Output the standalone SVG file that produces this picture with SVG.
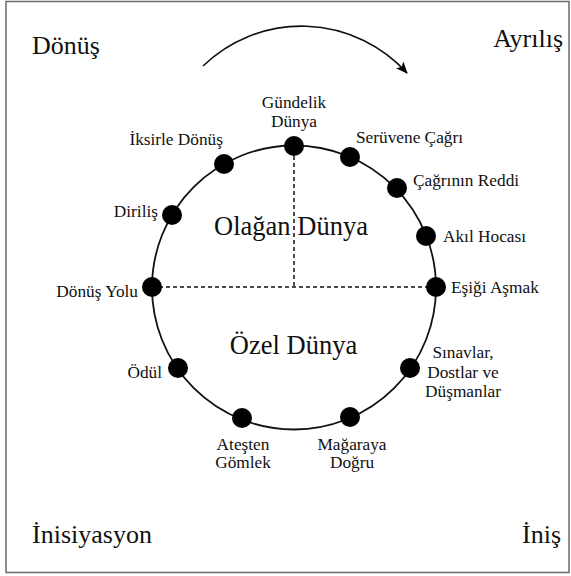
<svg xmlns="http://www.w3.org/2000/svg" width="571" height="576" viewBox="0 0 571 576">
<style>
text{fill:#111}
.big{font:26px 'Liberation Serif','Times New Roman',serif}
.mid{font:26.5px 'Liberation Serif','Times New Roman',serif}
.lbl{font:17.3px 'Liberation Serif','Times New Roman',serif}
.dot{fill:#000}
.dash{stroke:#111;stroke-width:1.5;stroke-dasharray:4 3;fill:none}
</style>
<defs>
<marker id="ah" viewBox="0 0 12 10" refX="11" refY="5" markerWidth="12" markerHeight="10" markerUnits="userSpaceOnUse" orient="auto">
<path d="M0,0 L12,5 L0,10 L3,5 Z" fill="#000"/>
</marker>
</defs>
<rect x="6" y="1.5" width="563" height="571" fill="#fff" stroke="#6a6a6a" stroke-width="1.5"/>
<g id="corners">
<text class="big" x="32" y="54">Dönüş</text>
<text class="big" x="563" y="47" text-anchor="end">Ayrılış</text>
<text class="big" x="32" y="543">İnisiyasyon</text>
<text class="big" x="561" y="543" text-anchor="end">İniş</text>
</g>
<g id="connectors">
<circle cx="294" cy="287.5" r="142" fill="none" stroke="#111" stroke-width="1.8"/>
<path class="dash" d="M294,156 V287"/>
<path class="dash" d="M152,287 H436"/>
<path d="M203,66 A142,142 0 0,1 407,73" fill="none" stroke="#111" stroke-width="1.6" marker-end="url(#ah)"/>
</g>
<g id="regions">
<text class="mid" x="291" y="235" text-anchor="middle">Olağan Dünya</text>
<text class="mid" x="293.5" y="354" text-anchor="middle">Özel Dünya</text>
</g>
<g id="n-gundelik"><circle class="dot" cx="294" cy="146" r="10"/><text class="lbl" x="294" y="108" text-anchor="middle">Gündelik</text><text class="lbl" x="294" y="127" text-anchor="middle">Dünya</text></g>
<g id="n-seruvene"><circle class="dot" cx="350" cy="157" r="10"/><text class="lbl" x="356" y="143">Serüvene Çağrı</text></g>
<g id="n-reddi"><circle class="dot" cx="397" cy="188" r="10"/><text class="lbl" x="413" y="186">Çağrının Reddi</text></g>
<g id="n-akil"><circle class="dot" cx="426" cy="236" r="10"/><text class="lbl" x="443" y="242">Akıl Hocası</text></g>
<g id="n-esigi"><circle class="dot" cx="436" cy="287" r="10"/><text class="lbl" x="451" y="293">Eşiği Aşmak</text></g>
<g id="n-sinavlar"><circle class="dot" cx="410" cy="368" r="10"/><text class="lbl" x="463" y="358" text-anchor="middle">Sınavlar,</text><text class="lbl" x="463" y="378" text-anchor="middle">Dostlar ve</text><text class="lbl" x="463" y="397" text-anchor="middle">Düşmanlar</text></g>
<g id="n-magaraya"><circle class="dot" cx="350" cy="417" r="10"/><text class="lbl" x="352" y="450" text-anchor="middle">Mağaraya</text><text class="lbl" x="352" y="468" text-anchor="middle">Doğru</text></g>
<g id="n-atesten"><circle class="dot" cx="242" cy="418" r="10"/><text class="lbl" x="243" y="450" text-anchor="middle">Ateşten</text><text class="lbl" x="243" y="468" text-anchor="middle">Gömlek</text></g>
<g id="n-odul"><circle class="dot" cx="178" cy="368" r="10"/><text class="lbl" x="162" y="378" text-anchor="end">Ödül</text></g>
<g id="n-donusyolu"><circle class="dot" cx="152" cy="287" r="10"/><text class="lbl" x="138" y="297" text-anchor="end">Dönüş Yolu</text></g>
<g id="n-dirilis"><circle class="dot" cx="172" cy="215" r="10"/><text class="lbl" x="158" y="217" text-anchor="end">Diriliş</text></g>
<g id="n-iksirle"><circle class="dot" cx="224" cy="164" r="10"/><text class="lbl" x="223" y="145" text-anchor="end">İksirle Dönüş</text></g>
</svg>
